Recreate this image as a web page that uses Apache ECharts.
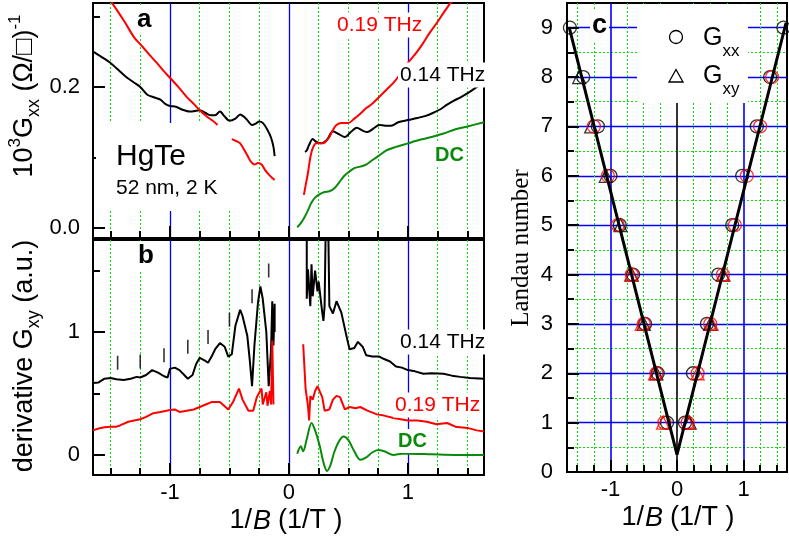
<!DOCTYPE html>
<html>
<head>
<meta charset="utf-8">
<script src="https://cdn.jsdelivr.net/npm/echarts@6/dist/echarts.min.js"></script>
<style>
html,body{margin:0;padding:0;background:#fff}
#chart{width:789px;height:542px}
</style>
</head>
<body>
<div id="chart"></div>
<script>
// ---- panel a : Gxx vs 1/B ----
const aBlackLeft = [[-1.647,0.25],[-1.58,0.243],[-1.5,0.234],[-1.42,0.222],[-1.36,0.213],[-1.3,0.206],[-1.25,0.2],[-1.19,0.189],[-1.13,0.185],[-1.08,0.182],[-1.04,0.176],[-1.0,0.173],[-0.95,0.172],[-0.9,0.168],[-0.83,0.165],[-0.75,0.167],[-0.7,0.163],[-0.66,0.16],[-0.62,0.16],[-0.58,0.165],[-0.54,0.158],[-0.5,0.152],[-0.45,0.155],[-0.41,0.161],[-0.38,0.158],[-0.35,0.153],[-0.31,0.146],[-0.28,0.148],[-0.25,0.151],[-0.22,0.149],[-0.18,0.139],[-0.15,0.128],[-0.13,0.115],[-0.12,0.102]];
const aRedLeft1 = [[-1.5,0.322],[-1.45,0.31],[-1.38,0.292],[-1.3,0.27],[-1.23,0.257],[-1.17,0.245],[-1.11,0.234],[-1.05,0.222],[-1.0,0.213],[-0.93,0.2],[-0.86,0.186],[-0.8,0.176],[-0.75,0.167],[-0.69,0.158],[-0.64,0.152],[-0.6,0.146]];
const aRedLeft2 = [[-0.48,0.126],[-0.44,0.123],[-0.41,0.12],[-0.38,0.112],[-0.35,0.103],[-0.32,0.094],[-0.29,0.09],[-0.26,0.092],[-0.23,0.09],[-0.2,0.082],[-0.17,0.076],[-0.14,0.071],[-0.12,0.068]];
const aBlackRight = [[0.135,0.108],[0.15,0.11],[0.17,0.118],[0.2,0.126],[0.23,0.122],[0.27,0.12],[0.32,0.125],[0.37,0.137],[0.42,0.133],[0.47,0.129],[0.52,0.136],[0.57,0.142],[0.62,0.138],[0.66,0.136],[0.71,0.141],[0.76,0.146],[0.81,0.145],[0.86,0.145],[0.92,0.15],[1.0,0.153],[1.08,0.156],[1.15,0.159],[1.21,0.163],[1.27,0.168],[1.33,0.175],[1.38,0.18],[1.45,0.186],[1.52,0.193],[1.58,0.2],[1.64,0.206]];
const aRedRight = [[0.126,0.047],[0.14,0.06],[0.16,0.078],[0.18,0.1],[0.2,0.113],[0.23,0.12],[0.27,0.12],[0.3,0.121],[0.34,0.129],[0.37,0.139],[0.4,0.146],[0.44,0.149],[0.5,0.149],[0.55,0.155],[0.6,0.162],[0.65,0.17],[0.7,0.176],[0.76,0.186],[0.82,0.196],[0.88,0.206],[0.94,0.219],[1.0,0.234],[1.06,0.246],[1.12,0.26],[1.18,0.276],[1.24,0.29],[1.3,0.305],[1.37,0.322]];
const aGreen = [[0.07,0.001],[0.1,0.007],[0.13,0.015],[0.16,0.025],[0.19,0.036],[0.22,0.043],[0.26,0.048],[0.3,0.051],[0.34,0.052],[0.38,0.056],[0.42,0.064],[0.46,0.073],[0.5,0.079],[0.55,0.085],[0.6,0.087],[0.65,0.09],[0.7,0.096],[0.76,0.103],[0.82,0.11],[0.9,0.115],[1.0,0.12],[1.1,0.125],[1.2,0.129],[1.3,0.134],[1.4,0.14],[1.5,0.144],[1.64,0.15]];

// ---- panel b : derivative Gxy ----
const bBlackLeft = [[-1.647,0.585],[-1.6,0.59],[-1.55,0.62],[-1.5,0.625],[-1.45,0.615],[-1.39,0.61],[-1.33,0.62],[-1.28,0.635],[-1.25,0.63],[-1.2,0.65],[-1.15,0.69],[-1.1,0.67],[-1.05,0.64],[-1.02,0.63],[-1.0,0.7],[-0.96,0.71],[-0.92,0.69],[-0.88,0.65],[-0.85,0.62],[-0.81,0.65],[-0.78,0.74],[-0.75,0.79],[-0.71,0.77],[-0.68,0.75],[-0.65,0.8],[-0.62,0.86],[-0.58,0.91],[-0.54,0.88],[-0.51,0.8],[-0.48,0.82],[-0.45,1.05],[-0.41,1.18],[-0.39,1.13],[-0.35,0.97],[-0.33,0.78],[-0.31,0.56],[-0.29,0.89],[-0.26,1.24],[-0.24,1.37],[-0.22,1.27],[-0.19,1.0],[-0.17,0.56],[-0.15,0.86],[-0.14,1.25],[-0.13,0.89],[-0.12,1.23],[-0.12,1.0]];
const bRedLeft = [[-1.647,0.2],[-1.6,0.215],[-1.55,0.225],[-1.5,0.23],[-1.45,0.23],[-1.42,0.24],[-1.35,0.27],[-1.3,0.28],[-1.25,0.29],[-1.2,0.31],[-1.14,0.34],[-1.08,0.35],[-1.0,0.365],[-0.96,0.37],[-0.92,0.35],[-0.86,0.36],[-0.8,0.37],[-0.75,0.39],[-0.7,0.41],[-0.65,0.43],[-0.58,0.43],[-0.51,0.37],[-0.47,0.43],[-0.42,0.54],[-0.39,0.45],[-0.34,0.36],[-0.3,0.36],[-0.27,0.47],[-0.23,0.54],[-0.22,0.41],[-0.19,0.51],[-0.18,0.4],[-0.16,0.52],[-0.15,0.41],[-0.14,0.93],[-0.13,0.41]];
const bBlackRight = [[0.15,1.9],[0.15,1.27],[0.16,1.51],[0.18,1.21],[0.19,1.55],[0.2,1.29],[0.22,1.5],[0.24,1.33],[0.25,1.41],[0.28,1.16],[0.29,1.09],[0.3,1.21],[0.31,1.9],[0.33,1.9],[0.34,1.21],[0.37,1.15],[0.4,1.25],[0.44,1.16],[0.49,0.94],[0.51,0.86],[0.55,0.87],[0.58,0.92],[0.62,0.88],[0.65,0.81],[0.7,0.8],[0.76,0.8],[0.8,0.78],[0.85,0.76],[0.9,0.72],[0.95,0.71],[1.0,0.69],[1.06,0.68],[1.13,0.66],[1.2,0.665],[1.3,0.66],[1.37,0.645],[1.44,0.635],[1.52,0.625],[1.64,0.62]];
const bRedRight = [[0.12,0.9],[0.14,0.54],[0.16,0.4],[0.17,0.28],[0.18,0.48],[0.2,0.45],[0.22,0.52],[0.24,0.56],[0.28,0.47],[0.3,0.36],[0.34,0.37],[0.37,0.45],[0.4,0.48],[0.43,0.47],[0.47,0.37],[0.51,0.39],[0.56,0.38],[0.6,0.39],[0.66,0.36],[0.74,0.33],[0.8,0.32],[0.88,0.3],[1.0,0.28],[1.08,0.28],[1.16,0.27],[1.24,0.25],[1.33,0.26],[1.4,0.23],[1.5,0.22],[1.58,0.2],[1.64,0.19]];
const bGreen = [[0.07,0.01],[0.1,0.07],[0.12,0.03],[0.15,0.13],[0.19,0.26],[0.22,0.2],[0.26,0.07],[0.29,-0.06],[0.32,-0.13],[0.35,-0.08],[0.38,0.02],[0.42,0.11],[0.46,0.15],[0.5,0.12],[0.55,0.03],[0.6,-0.04],[0.65,-0.02],[0.7,0.02],[0.75,0.04],[0.8,0.03],[0.88,0.0],[0.95,0.01],[1.0,0.01],[1.2,0.005],[1.4,0.0],[1.64,0.0]];
const bMarks = [[-1.44,0.75],[-1.25,0.76],[-1.05,0.81],[-0.85,0.88],[-0.68,0.96],[-0.5,1.1],[-0.31,1.29],[-0.17,1.5]];

// ---- panel c : Landau level fan ----
const cFit = [[-1.62,9],[0,0.35],[1.64,9.1]];
const cXxBlack = [[-1.61,9],[-1.41,8],[-1.19,7],[-1.0,6],[-0.86,5],[-0.66,4],[-0.48,3],[-0.29,2],[-0.15,1],[0.12,1],[0.24,2],[0.45,3],[0.62,4],[0.83,5],[0.98,6],[1.2,7],[1.4,8],[1.6,9]];
const cXxRed = [[-1.25,7],[-1.04,6],[-0.89,5],[-0.68,4],[-0.5,3],[-0.31,2],[-0.19,1],[0.16,1],[0.31,2],[0.5,3],[0.69,4],[0.87,5],[1.05,6],[1.25,7],[1.43,8]];
const cXyBlack = [[-1.47,8],[-1.29,7],[-1.07,6],[-0.85,5],[-0.68,4],[-0.5,3],[-0.31,2],[0.19,1],[0.5,3],[0.69,4]];
const cXyRed = [[-0.69,4],[-0.53,3],[-0.33,2],[-0.21,1],[0.17,1],[0.31,2],[0.52,3],[0.7,4]];

// ticks
const xMajor = [-1, 0, 1];
const xMinor = [-1.5, -1.25, -0.75, -0.5, -0.25, 0.25, 0.5, 0.75, 1.25, 1.5];
const aYMajor = [0, 0.2];
const aYMinor = [0.1, 0.3];
const bYMajor = [0, 1];
const bYMinor = [0.5, 1.5];
const cYLabels = [0, 1, 2, 3, 4, 5, 6, 7, 8, 9];
const cYMajor = [1, 2, 3, 4, 5, 6, 7, 8, 9];
const cYMinor = [0.5, 1.5, 2.5, 3.5, 4.5, 5.5, 6.5, 7.5, 8.5];

const FONT = "'Liberation Sans', Arial, 'DejaVu Sans', sans-serif";
const BLUE = '#0000ff';
const GDOT = '#00e600';
const RED = '#ff0000';
const DCG = '#0a8a0a';

function mainAxis(grid, pos, min, max, ticks, labels, split, fmt) {
    return {
        type: 'value', gridIndex: grid, position: pos, min: min, max: max,
        axisLine: {show: true, onZero: false, lineStyle: {color: '#000', width: 2}},
        axisTick: {show: true, inside: true, length: 12, customValues: ticks, lineStyle: {color: '#000', width: 2}},
        axisLabel: {show: labels != null, customValues: labels || [], fontSize: 22, color: '#000', fontFamily: FONT,
            margin: pos === 'left' ? 13 : 7, formatter: fmt || (v => String(v))},
        splitLine: {show: split != null, lineStyle: {color: split || '#000', width: 1.3}}
    };
}
function minorAxis(grid, pos, min, max, ticks, split) {
    return {
        type: 'value', gridIndex: grid, position: pos, min: min, max: max,
        axisLine: {show: false, onZero: false},
        axisTick: {show: true, inside: true, length: 7, customValues: ticks, lineStyle: {color: '#000', width: 2}},
        axisLabel: {show: false},
        splitLine: {show: split, lineStyle: {color: GDOT, width: 1, type: [2, 2]}}
    };
}
function curve(data, color, xi, smooth) {
    return {type: 'line', data: data, xAxisIndex: xi, yAxisIndex: xi, symbol: 'none', smooth: smooth,
        lineStyle: {color: color, width: 2}, itemStyle: {color: color}, z: 2, silent: true};
}
function dots(data, symbol, color) {
    return {type: 'scatter', data: data, xAxisIndex: 4, yAxisIndex: 4, symbol: symbol, symbolSize: 13,
        itemStyle: {color: 'transparent', borderColor: color, borderWidth: 1.3}, z: 2, silent: true};
}
function note(text, x, y, color, size, bold) {
    return {type: 'text', z: 5, x: x, y: y, style: {text: text, fill: color, fontSize: size, fontFamily: FONT,
        fontWeight: bold ? 'bold' : 'normal', align: 'left', verticalAlign: 'middle',
        backgroundColor: '#fff', padding: [2, 2]}};
}

const nameRich = {
    n: {fontSize: 27, fontFamily: FONT, fill: '#000', lineHeight: 36, verticalAlign: 'middle'},
    sup: {fontSize: 17, fontFamily: FONT, fill: '#000', lineHeight: 18, verticalAlign: 'top'},
    sub: {fontSize: 18, fontFamily: FONT, fill: '#000', lineHeight: 23, verticalAlign: 'bottom'}
};
const xNameRich = {
    n: {fontSize: 27, fontFamily: FONT, fill: '#000'},
    i: {fontSize: 27, fontFamily: FONT, fill: '#000', fontStyle: 'italic', padding: [0, 7, 0, 1]}
};
const legRich = {
    g: {fontSize: 25, fontFamily: FONT, fill: '#000', lineHeight: 44, verticalAlign: 'middle'},
    s: {fontSize: 17, fontFamily: FONT, fill: '#000', lineHeight: 19, verticalAlign: 'bottom'}
};

const chart = echarts.init(document.getElementById('chart'), null, {renderer: 'canvas'});
chart.setOption({
    animation: false,
    backgroundColor: '#fff',
    grid: [
        {left: 93, top: 3, width: 391, height: 235, show: true, borderColor: '#000', borderWidth: 2, outerBoundsMode: 'none'},
        {left: 93, top: 240, width: 391, height: 235, show: true, borderColor: '#000', borderWidth: 2, outerBoundsMode: 'none'},
        {left: 567, top: 3, width: 220, height: 469, show: true, borderColor: '#000', borderWidth: 2, outerBoundsMode: 'none'}
    ],
    xAxis: [
        mainAxis(0, 'bottom', -1.647, 1.64, xMajor, null, BLUE),
        minorAxis(0, 'bottom', -1.647, 1.64, xMinor, true),
        mainAxis(1, 'bottom', -1.647, 1.64, xMajor, xMajor, BLUE),
        minorAxis(1, 'bottom', -1.647, 1.64, xMinor, true),
        Object.assign(mainAxis(2, 'bottom', -1.654, 1.654, xMajor, xMajor, BLUE), {
            splitLine: {show: true, lineStyle: {color: [BLUE, '#000', BLUE], width: 1.6}}
        }),
        minorAxis(2, 'bottom', -1.654, 1.654, xMinor, true)
    ],
    yAxis: [
        mainAxis(0, 'left', -0.0142, 0.319, aYMajor, aYMajor, null, v => v.toFixed(1)),
        minorAxis(0, 'left', -0.0142, 0.319, aYMinor, false),
        mainAxis(1, 'left', -0.163, 1.748, bYMajor, bYMajor, null),
        minorAxis(1, 'left', -0.163, 1.748, bYMinor, false),
        Object.assign(mainAxis(2, 'left', 0, 9.5, cYMajor, cYLabels, BLUE), {
            axisLabel: {show: true, customValues: cYLabels, fontSize: 22, color: '#000', fontFamily: FONT, margin: 14}
        }),
        minorAxis(2, 'left', 0, 9.5, cYMinor, true)
    ],
    series: [
        curve(aBlackLeft, '#000', 0, 0.3),
        curve(aRedLeft1, RED, 0, 0.3),
        curve(aRedLeft2, RED, 0, 0.3),
        curve(aBlackRight, '#000', 0, 0.3),
        curve(aRedRight, RED, 0, 0.3),
        curve(aGreen, DCG, 0, 0.3),
        curve(bBlackLeft, '#000', 2, false),
        curve(bRedLeft, RED, 2, false),
        curve(bBlackRight, '#000', 2, false),
        curve(bRedRight, RED, 2, false),
        curve(bGreen, DCG, 2, 0.3),
        {type: 'scatter', data: bMarks, xAxisIndex: 2, yAxisIndex: 2, symbol: 'rect', symbolSize: [1.6, 14],
            itemStyle: {color: '#000'}, silent: true},
        dots(cXxBlack, 'circle', '#000'),
        dots(cXyBlack, 'triangle', '#000'),
        dots(cXxRed, 'circle', RED),
        dots(cXyRed, 'triangle', RED),
        {type: 'line', data: cFit, xAxisIndex: 4, yAxisIndex: 4, symbol: 'none',
            lineStyle: {color: '#000', width: 3}, z: 3, silent: true}
    ],
    graphic: [
        // white patch behind the sample text in panel a
        {type: 'rect', z: 1, shape: {x: 96, y: 123, width: 134, height: 88}, style: {fill: '#fff'}},
        {type: 'text', z: 5, x: 116, y: 157, style: {text: 'HgTe', fill: '#000', fontSize: 30, fontFamily: FONT, align: 'left', verticalAlign: 'middle'}},
        {type: 'text', z: 5, x: 116, y: 188, style: {text: '52 nm, 2 K', fill: '#000', fontSize: 21, fontFamily: FONT, align: 'left', verticalAlign: 'middle'}},
        note('a', 135, 20, '#000', 26, true),
        note('b', 136, 256, '#000', 26, true),
        note('0.19 THz', 335, 25, RED, 21, false),
        note('0.14 THz', 398, 75, '#000', 21, false),
        note('DC', 433, 155, DCG, 20, true),
        note('0.14 THz', 398, 342, '#000', 21, false),
        note('0.19 THz', 393, 405, RED, 21, false),
        note('DC', 396, 441, DCG, 20, true),
        // panel c label and legend
        note('c', 590, 26, '#000', 27, true),
        {type: 'rect', z: 1, shape: {x: 637, y: 4, width: 111, height: 99}, style: {fill: '#fff'}},
        {type: 'circle', z: 5, shape: {cx: 676, cy: 37, r: 6.5}, style: {fill: 'none', stroke: '#000', lineWidth: 1.3}},
        {type: 'polygon', z: 5, shape: {points: [[676, 69.5], [683, 82], [669, 82]]}, style: {fill: 'none', stroke: '#000', lineWidth: 1.3}},
        {type: 'text', z: 5, x: 703, y: 38, style: {text: '{g|G}{s|xx}', rich: legRich, align: 'left', verticalAlign: 'middle'}},
        {type: 'text', z: 5, x: 703, y: 76, style: {text: '{g|G}{s|xy}', rich: legRich, align: 'left', verticalAlign: 'middle'}},
        // axis titles
        {type: 'text', z: 5, x: 25, y: 96, rotation: Math.PI / 2,
            style: {text: '{n|10}{sup|3}{n|G}{sub|xx}{n| (Ω/□)}{sup|-1}', rich: nameRich, align: 'center', verticalAlign: 'middle'}},
        {type: 'text', z: 5, x: 25, y: 356, rotation: Math.PI / 2,
            style: {text: '{n|derivative G}{sub|xy}{n| (a.u.)}', rich: nameRich, align: 'center', verticalAlign: 'middle'}},
        {type: 'text', z: 5, x: 521, y: 248, rotation: Math.PI / 2,
            style: {text: 'Landau number', fill: '#000', fontSize: 25, fontFamily: "'Liberation Serif', 'DejaVu Serif', serif", align: 'center', verticalAlign: 'middle'}},
        {type: 'text', z: 5, x: 286, y: 521,
            style: {text: '{n|1/}{i|B}{n|(1/T )}', rich: xNameRich, align: 'center', verticalAlign: 'middle'}},
        {type: 'text', z: 5, x: 678, y: 518,
            style: {text: '{n|1/}{i|B}{n|(1/T )}', rich: xNameRich, align: 'center', verticalAlign: 'middle'}}
    ]
});
</script>
</body>
</html>
